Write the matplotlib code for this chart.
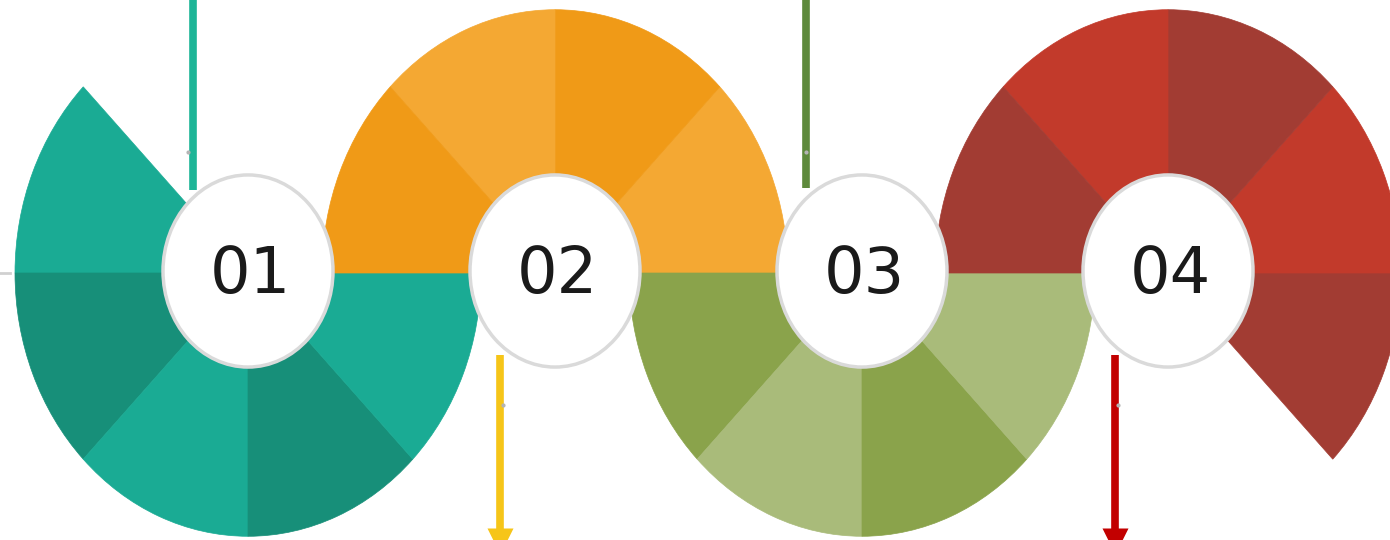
import matplotlib.pyplot as plt
from matplotlib.patches import Wedge, Ellipse

# pixel layout of the picture, y is stretched a bit (the rings are ovals)
W, H = 1390, 540
SY = 1.13

labels = ['01', '02', '03', '04']
centers_x = [248, 555, 862, 1168]
center_y = 273

# start angle of every 45 degree piece, per ring
seg_starts = [
	[135, 180, 225, 270, 315],
	[0, 45, 90, 135],
	[180, 225, 270, 315],
	[-45, 0, 45, 90, 135],
]
seg_colors = [
	['#1aab94', '#178f79', '#1aab94', '#178f79', '#1aab94'],
	['#f4a833', '#f09a17', '#f4a833', '#f09a17'],
	['#8aa34b', '#a9bb7a', '#8aa34b', '#a9bb7a'],
	['#a23c33', '#c23a2b', '#a23c33', '#c23a2b', '#a23c33'],
]

# the thin connector lines
line_x = [193, 500, 806, 1115]
line_from = [0, 355, 0, 355]
line_to = [190, 532, 188, 532]
line_colors = ['#1db597', '#f6c518', '#5e8a3c', '#c20000']
line_arrow = [False, True, False, True]

outer_r = 233
inner_r = 85


def py(y):
	# pixel row from the top -> data y
	return (H - y) / SY


fig = plt.figure(figsize=(W / 100, H / 100), dpi=100)
ax = fig.add_axes([0, 0, 1, 1])
ax.set_xlim(0, W)
ax.set_ylim(0, H / SY)
ax.axis('off')

for i in range(len(labels)):
	cx = centers_x[i]
	cy = py(center_y)
	for a, c in zip(seg_starts[i], seg_colors[i]):
		ax.add_patch(Wedge((cx, cy), outer_r, a, a + 45, facecolor=c, edgecolor=c, lw=0.5, zorder=1))

for i in range(len(line_x)):
	x = line_x[i]
	ax.plot([x, x], [py(line_from[i]), py(line_to[i])], color=line_colors[i], lw=5.5,
		solid_capstyle='butt', zorder=2)
	if line_arrow[i]:
		ax.plot(x, py(541), 'v', color=line_colors[i], ms=19, mec='none', clip_on=False, zorder=2)

# little grey marks next to the lines
ax.plot([188, 806, 503, 1118], [py(152), py(152), py(405), py(405)], 'o', color='#b4b4b4', ms=2, zorder=3)
ax.plot([0, 10], [py(273), py(273)], color='#d0d0d0', lw=2, zorder=0)

for i in range(len(labels)):
	cx = centers_x[i]
	cy = py(center_y - 2)
	ax.add_patch(Ellipse((cx, cy), 2 * inner_r, 2 * inner_r, facecolor='white',
		edgecolor='#dadada', lw=2.5, zorder=4))
	ax.text(cx + 2, py(center_y + 2), labels[i], fontsize=46, color='#1a1a1a',
		ha='center', va='center', family='DejaVu Sans', zorder=5)

fig.savefig('out.png', dpi=100)
